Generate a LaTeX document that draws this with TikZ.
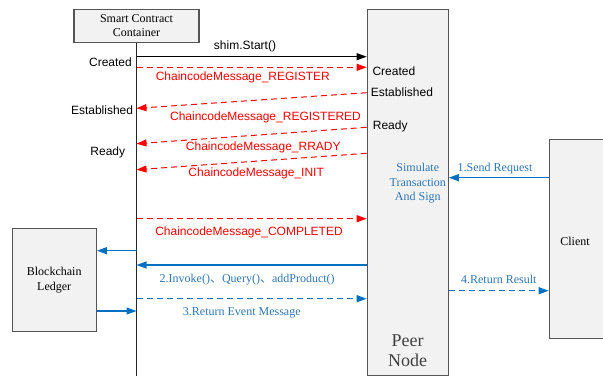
\documentclass[tikz,border=0pt]{standalone}
\usepackage{fontspec}
\setmainfont{Liberation Serif}
\newfontfamily\sansfam{Liberation Sans}
\newfontfamily\cjk{Noto Sans CJK SC}
\usetikzlibrary{arrows.meta}
\definecolor{boxfill}{RGB}{242,242,242}
\definecolor{boxline}{RGB}{85,85,85}
\definecolor{msgred}{RGB}{255,0,0}
\definecolor{msgblue}{RGB}{0,112,192}
\definecolor{txtblue}{RGB}{46,117,182}
\definecolor{peertxt}{RGB}{64,64,64}

\begin{document}
\begin{tikzpicture}[x=1pt,y=-1pt,
  box/.style={draw=boxline, fill=boxfill, line width=1.1pt, inner sep=0pt, align=center},
  serif/.style={font=\fontsize{12}{14.3}\selectfont, align=center, inner sep=0pt},
  sanslbl/.style={font=\sansfam\fontsize{12}{14}\selectfont, inner sep=0pt},
  redlbl/.style={sanslbl, text=msgred},
  bluelbl/.style={serif, text=txtblue},
  tip/.style={-{Triangle[length=10pt,width=7pt]}},
  callmsg/.style={tip, line width=1pt, black},
  redmsg/.style={tip, line width=1pt, msgred, dash pattern=on 6pt off 4pt},
  bluemsg/.style={tip, line width=1.2pt, msgblue},
  bluedash/.style={bluemsg, dash pattern=on 6pt off 4pt},
]
\useasboundingbox (0,0) rectangle (603,376);

% participants
\node[box, serif, minimum width=125, minimum height=33] (scc) at (136.5,25.8) {Smart Contract\\Container};
\node[box, anchor=north west, minimum width=81, minimum height=366] (peer) at (366.7,9.3) {};
\node[box, anchor=north west, minimum width=90, minimum height=198.7] (client) at (548.7,139) {};
\node[box, serif, minimum width=84.3, minimum height=103] (ledger) at (54.2,280.2) {Blockchain\\Ledger};

\node[serif] (clienttxt) at (575,241.7) {Client};
\node[font=\fontsize{18}{20}\selectfont, align=center, inner sep=0pt, text=peertxt] (peertxt) at (407.5,351) {Peer\\Node};
\node[bluelbl] (simtxt) at (417.8,183.3) {Simulate\\Transaction\\And Sign};

% lifeline of the container
\coordinate (lifebot) at (scc.south |- 0,376);
\draw[line width=1pt, black!85] (scc.south) -- (lifebot);

% anchor points on the lifeline
\coordinate (l1) at (scc.south |- 0,56.7);
\coordinate (l2) at (scc.south |- 0,67.3);
\coordinate (l3) at (scc.south |- 0,108.3);
\coordinate (l4) at (scc.south |- 0,143.7);
\coordinate (l5) at (scc.south |- 0,169.7);
\coordinate (l6) at (scc.south |- 0,218.7);
\coordinate (l7) at (scc.south |- 0,250.7);
\coordinate (l8) at (scc.south |- 0,265);
\coordinate (l9) at (scc.south |- 0,298.7);
\coordinate (l10) at (scc.south |- 0,311);

% chaincode handshake
\draw[callmsg] (l1) -- (peer.west |- l1);
\draw[redmsg] (l2) -- (peer.west |- l2);
\draw[redmsg] (peer.west |- 0,92.7) -- (l3);
\draw[redmsg] (peer.west |- 0,127.3) -- (l4);
\draw[redmsg] (peer.west |- 0,153.3) -- (l5);
\draw[redmsg] (l6) -- (peer.west |- l6);

% transaction flow
\draw[bluemsg] (client.west |- 0,177.7) -- (peer.east |- 0,177.7);
\draw[bluemsg] (l7) -- (ledger.east |- l7);
\draw[bluemsg] (peer.west |- l8) -- (l8);
\draw[bluedash] (l9) -- (peer.west |- l9);
\draw[bluemsg] (ledger.east |- l10) -- (l10);
\draw[bluedash] (peer.east |- 0,290.7) -- (client.west |- 0,290.7);

% state labels
\node[sanslbl, anchor=east] (cCreated) at (132,62.3) {Created};
\node[sanslbl, anchor=east] (cEst) at (133.3,110) {Established};
\node[sanslbl] (cReady) at (107.8,152.3) {Ready};
\node[sanslbl, anchor=west] (pCreated) at (372.3,71) {Created};
\node[sanslbl, anchor=west] (pEst) at (370.7,92.7) {Established};
\node[sanslbl, anchor=west] (pReady) at (372.7,126.3) {Ready};

% message labels
\node[sanslbl] (mStart) at (245,46.7) {shim.Start()};
\node[redlbl] (mReg) at (242.8,77.7) {ChaincodeMessage\_REGISTER};
\node[redlbl] (mRegd) at (265.5,117.3) {ChaincodeMessage\_REGISTERED};
\node[redlbl] (mReady) at (263.3,147.7) {ChaincodeMessage\_RRADY};
\node[redlbl] (mInit) at (256.2,173) {ChaincodeMessage\_INIT};
\node[redlbl] (mDone) at (249,232.3) {ChaincodeMessage\_COMPLETED};
\node[bluelbl] (mInvoke) at (247.2,279.3) {2.Invoke()\makebox[12pt][l]{\cjk 、}Query()\makebox[12pt][l]{\cjk 、}addProduct()};
\node[bluelbl] (mEvent) at (241.8,313.3) {3.Return Event Message};
\node[bluelbl] (mSend) at (495,168.3) {1.Send Request};
\node[bluelbl] (mResult) at (498.8,279) {4.Return Result};
\end{tikzpicture}
\end{document}
